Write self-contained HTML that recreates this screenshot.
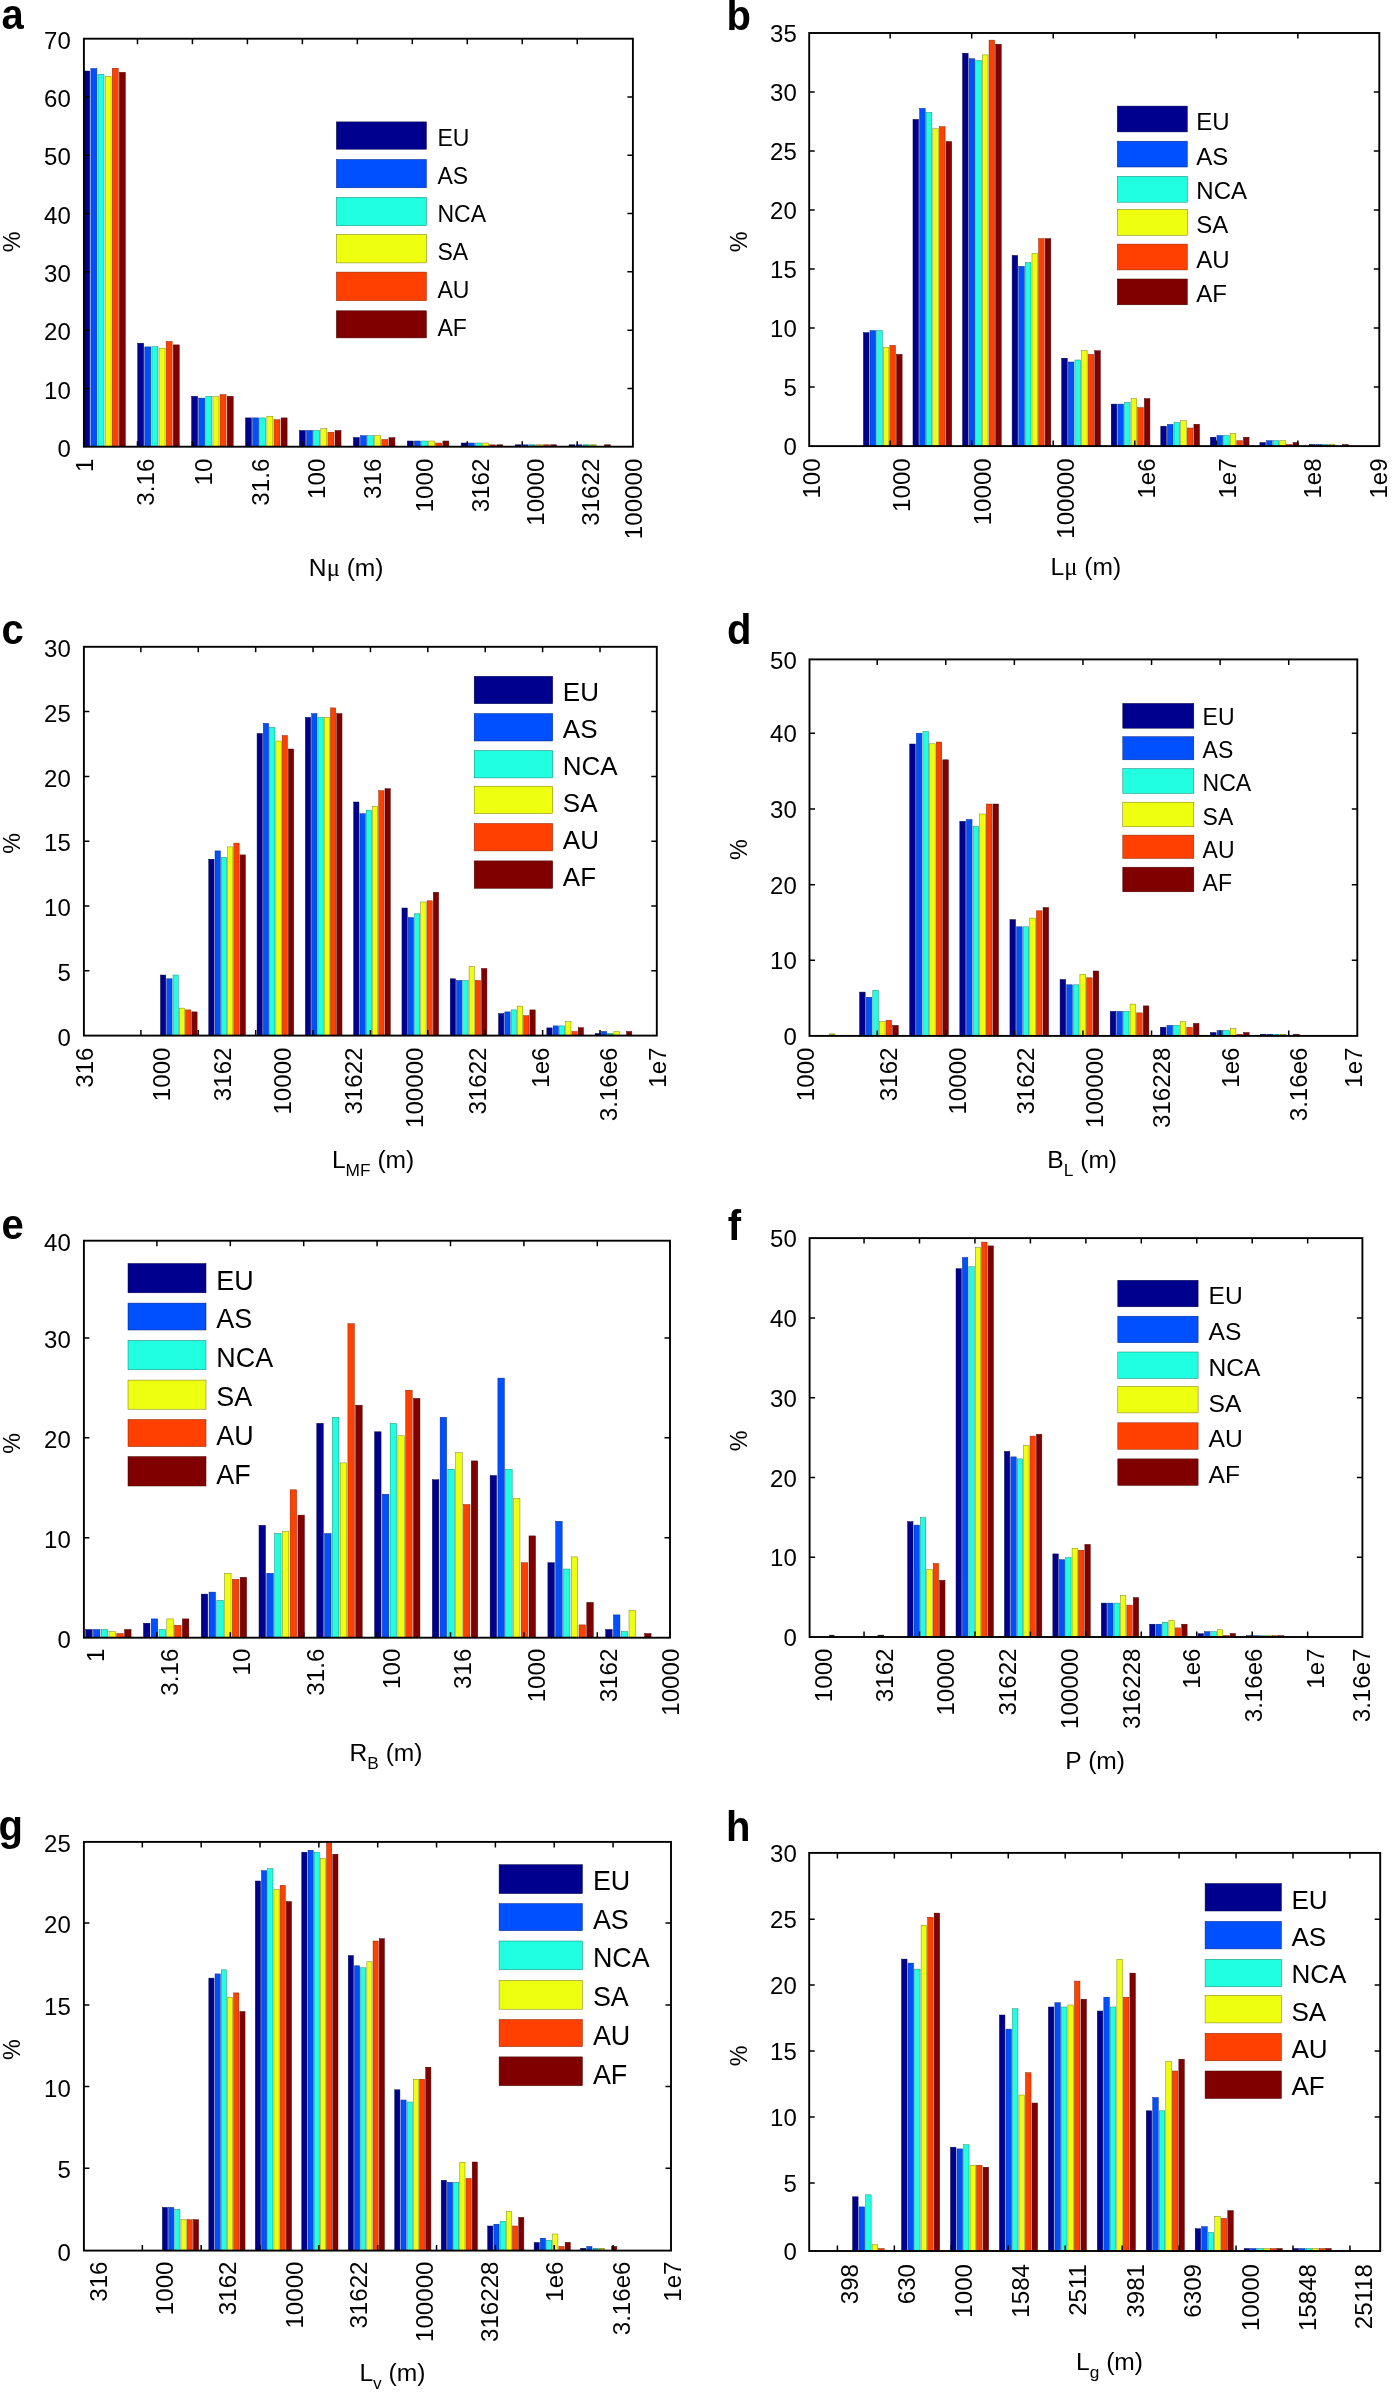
<!DOCTYPE html>
<html><head><meta charset="utf-8"><title>Figure</title>
<style>
html,body{margin:0;padding:0;background:#fff;}
svg{display:block;will-change:transform;font-family:"Liberation Sans",sans-serif;fill:#000;}
</style></head><body>
<svg width="1395" height="2397" viewBox="0 0 1395 2397">
<rect width="1395" height="2397" fill="#fff"/>
<g id="pa">
<g stroke-width="0.45">
<rect x="83.75" y="71" width="6" height="375.7" fill="#00008F" stroke="#000040"/>
<rect x="90.87" y="68.5" width="6" height="378.2" fill="#0050FF" stroke="#002080"/>
<rect x="97.99" y="74.3" width="6" height="372.4" fill="#20FFDF" stroke="#108070"/>
<rect x="105.11" y="76.3" width="6" height="370.4" fill="#EFFF10" stroke="#707808"/>
<rect x="112.23" y="68.2" width="6" height="378.5" fill="#FF4000" stroke="#802000"/>
<rect x="119.35" y="72.3" width="6" height="374.4" fill="#800000" stroke="#400000"/>
<rect x="137.67" y="343.2" width="6" height="103.5" fill="#00008F" stroke="#000040"/>
<rect x="144.79" y="346.9" width="6" height="99.8" fill="#0050FF" stroke="#002080"/>
<rect x="151.91" y="346.7" width="6" height="100" fill="#20FFDF" stroke="#108070"/>
<rect x="159.03" y="348.2" width="6" height="98.5" fill="#EFFF10" stroke="#707808"/>
<rect x="166.15" y="341.4" width="6" height="105.3" fill="#FF4000" stroke="#802000"/>
<rect x="173.27" y="344.9" width="6" height="101.8" fill="#800000" stroke="#400000"/>
<rect x="191.59" y="396.3" width="6" height="50.4" fill="#00008F" stroke="#000040"/>
<rect x="198.71" y="398.1" width="6" height="48.6" fill="#0050FF" stroke="#002080"/>
<rect x="205.83" y="396.3" width="6" height="50.4" fill="#20FFDF" stroke="#108070"/>
<rect x="212.95" y="396.6" width="6" height="50.1" fill="#EFFF10" stroke="#707808"/>
<rect x="220.07" y="394.6" width="6" height="52.1" fill="#FF4000" stroke="#802000"/>
<rect x="227.19" y="396.3" width="6" height="50.4" fill="#800000" stroke="#400000"/>
<rect x="245.51" y="417.9" width="6" height="28.8" fill="#00008F" stroke="#000040"/>
<rect x="252.63" y="417.9" width="6" height="28.8" fill="#0050FF" stroke="#002080"/>
<rect x="259.75" y="417.9" width="6" height="28.8" fill="#20FFDF" stroke="#108070"/>
<rect x="266.87" y="416.2" width="6" height="30.5" fill="#EFFF10" stroke="#707808"/>
<rect x="273.99" y="419.7" width="6" height="27" fill="#FF4000" stroke="#802000"/>
<rect x="281.11" y="417.9" width="6" height="28.8" fill="#800000" stroke="#400000"/>
<rect x="299.43" y="430.5" width="6" height="16.2" fill="#00008F" stroke="#000040"/>
<rect x="306.55" y="430.5" width="6" height="16.2" fill="#0050FF" stroke="#002080"/>
<rect x="313.67" y="430.5" width="6" height="16.2" fill="#20FFDF" stroke="#108070"/>
<rect x="320.79" y="428.7" width="6" height="18" fill="#EFFF10" stroke="#707808"/>
<rect x="327.91" y="432.2" width="6" height="14.5" fill="#FF4000" stroke="#802000"/>
<rect x="335.03" y="430.5" width="6" height="16.2" fill="#800000" stroke="#400000"/>
<rect x="353.35" y="437.5" width="6" height="9.2" fill="#00008F" stroke="#000040"/>
<rect x="360.47" y="435.7" width="6" height="11" fill="#0050FF" stroke="#002080"/>
<rect x="367.59" y="435.7" width="6" height="11" fill="#20FFDF" stroke="#108070"/>
<rect x="374.71" y="435.7" width="6" height="11" fill="#EFFF10" stroke="#707808"/>
<rect x="381.83" y="439.5" width="6" height="7.2" fill="#FF4000" stroke="#802000"/>
<rect x="388.95" y="437.7" width="6" height="9" fill="#800000" stroke="#400000"/>
<rect x="407.27" y="441" width="6" height="5.7" fill="#00008F" stroke="#000040"/>
<rect x="414.39" y="441" width="6" height="5.7" fill="#0050FF" stroke="#002080"/>
<rect x="421.51" y="441" width="6" height="5.7" fill="#20FFDF" stroke="#108070"/>
<rect x="428.63" y="441" width="6" height="5.7" fill="#EFFF10" stroke="#707808"/>
<rect x="435.75" y="443" width="6" height="3.7" fill="#FF4000" stroke="#802000"/>
<rect x="442.87" y="441" width="6" height="5.7" fill="#800000" stroke="#400000"/>
<rect x="461.19" y="443" width="6" height="3.7" fill="#00008F" stroke="#000040"/>
<rect x="468.31" y="443" width="6" height="3.7" fill="#0050FF" stroke="#002080"/>
<rect x="475.43" y="443" width="6" height="3.7" fill="#20FFDF" stroke="#108070"/>
<rect x="482.55" y="443" width="6" height="3.7" fill="#EFFF10" stroke="#707808"/>
<rect x="489.67" y="444.8" width="6" height="1.9" fill="#B83000" stroke="#802000"/>
<rect x="496.79" y="444.8" width="6" height="1.9" fill="#600000" stroke="#400000"/>
<rect x="515.11" y="444.8" width="6" height="1.9" fill="#000060" stroke="#000040"/>
<rect x="522.23" y="444.8" width="6" height="1.9" fill="#0038B0" stroke="#002080"/>
<rect x="529.35" y="444.8" width="6" height="1.9" fill="#18B8A0" stroke="#108070"/>
<rect x="536.47" y="444.8" width="6" height="1.9" fill="#A8B40C" stroke="#707808"/>
<rect x="543.59" y="444.8" width="6" height="1.9" fill="#B83000" stroke="#802000"/>
<rect x="550.71" y="444.8" width="6" height="1.9" fill="#600000" stroke="#400000"/>
<rect x="569.03" y="444.8" width="6" height="1.9" fill="#000060" stroke="#000040"/>
<rect x="576.15" y="444.8" width="6" height="1.9" fill="#0038B0" stroke="#002080"/>
<rect x="583.27" y="444.8" width="6" height="1.9" fill="#18B8A0" stroke="#108070"/>
<rect x="590.39" y="444.8" width="6" height="1.9" fill="#A8B40C" stroke="#707808"/>
<rect x="604.63" y="444.8" width="6" height="1.9" fill="#600000" stroke="#400000"/>
</g>
<path d="M137.47 446.7v-5.5M137.47 38.7v5.5M192.44 446.7v-5.5M192.44 38.7v5.5M247.41 446.7v-5.5M247.41 38.7v5.5M302.38 446.7v-5.5M302.38 38.7v5.5M357.35 446.7v-5.5M357.35 38.7v5.5M412.32 446.7v-5.5M412.32 38.7v5.5M467.29 446.7v-5.5M467.29 38.7v5.5M522.26 446.7v-5.5M522.26 38.7v5.5M577.23 446.7v-5.5M577.23 38.7v5.5M83.9 388.41h5.5M632.9 388.41h-5.5M83.9 330.13h5.5M632.9 330.13h-5.5M83.9 271.84h5.5M632.9 271.84h-5.5M83.9 213.56h5.5M632.9 213.56h-5.5M83.9 155.27h5.5M632.9 155.27h-5.5M83.9 96.99h5.5M632.9 96.99h-5.5" stroke="#000" stroke-width="1.5" fill="none"/>
<rect x="83.9" y="38.7" width="549" height="408" fill="none" stroke="#000" stroke-width="1.9"/>
<g font-size="24" text-anchor="end">
<text transform="translate(70.8 456.8) scale(1 1.03)">0</text>
<text transform="translate(70.8 398.51) scale(1 1.03)">10</text>
<text transform="translate(70.8 340.23) scale(1 1.03)">20</text>
<text transform="translate(70.8 281.94) scale(1 1.03)">30</text>
<text transform="translate(70.8 223.66) scale(1 1.03)">40</text>
<text transform="translate(70.8 165.37) scale(1 1.03)">50</text>
<text transform="translate(70.8 107.09) scale(1 1.03)">60</text>
<text transform="translate(70.8 48.8) scale(1 1.03)">70</text>
</g>
<g font-size="23.3" text-anchor="end">
<text transform="translate(92.6 458.7) rotate(-90) scale(1.035 1)">1</text>
<text transform="translate(154.3 458.7) rotate(-90) scale(1.035 1)">3.16</text>
<text transform="translate(212.3 458.7) rotate(-90) scale(1.035 1)">10</text>
<text transform="translate(269.1 458.7) rotate(-90) scale(1.035 1)">31.6</text>
<text transform="translate(325.4 458.7) rotate(-90) scale(1.035 1)">100</text>
<text transform="translate(380.8 458.7) rotate(-90) scale(1.035 1)">316</text>
<text transform="translate(433.3 458.7) rotate(-90) scale(1.035 1)">1000</text>
<text transform="translate(488.7 458.7) rotate(-90) scale(1.035 1)">3162</text>
<text transform="translate(543.6 458.7) rotate(-90) scale(1.035 1)">10000</text>
<text transform="translate(598.7 458.7) rotate(-90) scale(1.035 1)">31622</text>
<text transform="translate(641.6 458.7) rotate(-90) scale(1.035 1)">100000</text>
</g>
<text font-size="23.3" text-anchor="middle" transform="translate(20.3 242) rotate(-90)">%</text>
<text font-size="24.6" text-anchor="middle" x="346.2" y="575.7">N<tspan font-family="Liberation Serif">μ</tspan> (m)</text>
<text font-size="40" font-weight="bold" transform="translate(1.5 29.3) scale(1 1.05)">a</text>
<rect x="336.4" y="121.9" width="90" height="27.3" fill="#00008F" stroke="#000040" stroke-width="0.5"/>
<text font-size="23" x="437.5" y="145.66">EU</text>
<rect x="336.4" y="159.5" width="90" height="28.3" fill="#0050FF" stroke="#002080" stroke-width="0.5"/>
<text font-size="23" x="437.5" y="183.63">AS</text>
<rect x="336.4" y="197.4" width="90" height="28.3" fill="#20FFDF" stroke="#108070" stroke-width="0.5"/>
<text font-size="23" x="437.5" y="221.61">NCA</text>
<rect x="336.4" y="234.5" width="90" height="28.4" fill="#EFFF10" stroke="#707808" stroke-width="0.5"/>
<text font-size="23" x="437.5" y="259.59">SA</text>
<rect x="336.4" y="272.1" width="90" height="28.6" fill="#FF4000" stroke="#802000" stroke-width="0.5"/>
<text font-size="23" x="437.5" y="297.57">AU</text>
<rect x="336.4" y="310.8" width="90" height="27.1" fill="#800000" stroke="#400000" stroke-width="0.5"/>
<text font-size="23" x="437.5" y="335.54">AF</text>
</g>
<g id="pb">
<g stroke-width="0.45">
<rect x="863.42" y="332.6" width="5.6" height="113.5" fill="#00008F" stroke="#000040"/>
<rect x="870.04" y="330.6" width="5.6" height="115.5" fill="#0050FF" stroke="#002080"/>
<rect x="876.66" y="330.6" width="5.6" height="115.5" fill="#20FFDF" stroke="#108070"/>
<rect x="883.28" y="347.4" width="5.6" height="98.7" fill="#EFFF10" stroke="#707808"/>
<rect x="889.9" y="345.4" width="5.6" height="100.7" fill="#FF4000" stroke="#802000"/>
<rect x="896.52" y="354.4" width="5.6" height="91.7" fill="#800000" stroke="#400000"/>
<rect x="912.98" y="119.4" width="5.6" height="326.7" fill="#00008F" stroke="#000040"/>
<rect x="919.6" y="108.4" width="5.6" height="337.7" fill="#0050FF" stroke="#002080"/>
<rect x="926.22" y="112.4" width="5.6" height="333.7" fill="#20FFDF" stroke="#108070"/>
<rect x="932.84" y="128.7" width="5.6" height="317.4" fill="#EFFF10" stroke="#707808"/>
<rect x="939.46" y="126.7" width="5.6" height="319.4" fill="#FF4000" stroke="#802000"/>
<rect x="946.08" y="141.5" width="5.6" height="304.6" fill="#800000" stroke="#400000"/>
<rect x="962.54" y="53.2" width="5.6" height="392.9" fill="#00008F" stroke="#000040"/>
<rect x="969.16" y="58.7" width="5.6" height="387.4" fill="#0050FF" stroke="#002080"/>
<rect x="975.78" y="60.5" width="5.6" height="385.6" fill="#20FFDF" stroke="#108070"/>
<rect x="982.4" y="54.9" width="5.6" height="391.2" fill="#EFFF10" stroke="#707808"/>
<rect x="989.02" y="40.1" width="5.6" height="406" fill="#FF4000" stroke="#802000"/>
<rect x="995.64" y="44.2" width="5.6" height="401.9" fill="#800000" stroke="#400000"/>
<rect x="1012.11" y="255.4" width="5.6" height="190.7" fill="#00008F" stroke="#000040"/>
<rect x="1018.73" y="266.4" width="5.6" height="179.7" fill="#0050FF" stroke="#002080"/>
<rect x="1025.35" y="262.7" width="5.6" height="183.4" fill="#20FFDF" stroke="#108070"/>
<rect x="1031.97" y="253.4" width="5.6" height="192.7" fill="#EFFF10" stroke="#707808"/>
<rect x="1038.59" y="238.6" width="5.6" height="207.5" fill="#FF4000" stroke="#802000"/>
<rect x="1045.21" y="238.6" width="5.6" height="207.5" fill="#800000" stroke="#400000"/>
<rect x="1061.67" y="358.2" width="5.6" height="87.9" fill="#00008F" stroke="#000040"/>
<rect x="1068.29" y="362" width="5.6" height="84.1" fill="#0050FF" stroke="#002080"/>
<rect x="1074.91" y="360" width="5.6" height="86.1" fill="#20FFDF" stroke="#108070"/>
<rect x="1081.53" y="350.7" width="5.6" height="95.4" fill="#EFFF10" stroke="#707808"/>
<rect x="1088.15" y="354.4" width="5.6" height="91.7" fill="#FF4000" stroke="#802000"/>
<rect x="1094.77" y="350.7" width="5.6" height="95.4" fill="#800000" stroke="#400000"/>
<rect x="1111.23" y="404.1" width="5.6" height="42" fill="#00008F" stroke="#000040"/>
<rect x="1117.85" y="404.1" width="5.6" height="42" fill="#0050FF" stroke="#002080"/>
<rect x="1124.47" y="402.4" width="5.6" height="43.7" fill="#20FFDF" stroke="#108070"/>
<rect x="1131.09" y="398.6" width="5.6" height="47.5" fill="#EFFF10" stroke="#707808"/>
<rect x="1137.71" y="407.6" width="5.6" height="38.5" fill="#FF4000" stroke="#802000"/>
<rect x="1144.33" y="398.6" width="5.6" height="47.5" fill="#800000" stroke="#400000"/>
<rect x="1160.79" y="426.2" width="5.6" height="19.9" fill="#00008F" stroke="#000040"/>
<rect x="1167.41" y="424.4" width="5.6" height="21.7" fill="#0050FF" stroke="#002080"/>
<rect x="1174.03" y="422.4" width="5.6" height="23.7" fill="#20FFDF" stroke="#108070"/>
<rect x="1180.65" y="420.7" width="5.6" height="25.4" fill="#EFFF10" stroke="#707808"/>
<rect x="1187.27" y="428" width="5.6" height="18.1" fill="#FF4000" stroke="#802000"/>
<rect x="1193.89" y="424.2" width="5.6" height="21.9" fill="#800000" stroke="#400000"/>
<rect x="1210.35" y="437.2" width="5.6" height="8.9" fill="#00008F" stroke="#000040"/>
<rect x="1216.97" y="435.5" width="5.6" height="10.6" fill="#0050FF" stroke="#002080"/>
<rect x="1223.59" y="435.5" width="5.6" height="10.6" fill="#20FFDF" stroke="#108070"/>
<rect x="1230.21" y="433.5" width="5.6" height="12.6" fill="#EFFF10" stroke="#707808"/>
<rect x="1236.83" y="440.7" width="5.6" height="5.4" fill="#FF4000" stroke="#802000"/>
<rect x="1243.45" y="437.2" width="5.6" height="8.9" fill="#800000" stroke="#400000"/>
<rect x="1259.92" y="442.5" width="5.6" height="3.6" fill="#00008F" stroke="#000040"/>
<rect x="1266.54" y="440.7" width="5.6" height="5.4" fill="#0050FF" stroke="#002080"/>
<rect x="1273.16" y="440.7" width="5.6" height="5.4" fill="#20FFDF" stroke="#108070"/>
<rect x="1279.78" y="440.7" width="5.6" height="5.4" fill="#EFFF10" stroke="#707808"/>
<rect x="1286.4" y="444.5" width="5.6" height="1.6" fill="#B83000" stroke="#802000"/>
<rect x="1293.02" y="442.5" width="5.6" height="3.6" fill="#800000" stroke="#400000"/>
<rect x="1309.48" y="444.5" width="5.6" height="1.6" fill="#000060" stroke="#000040"/>
<rect x="1316.1" y="444.5" width="5.6" height="1.6" fill="#0038B0" stroke="#002080"/>
<rect x="1322.72" y="444.5" width="5.6" height="1.6" fill="#18B8A0" stroke="#108070"/>
<rect x="1329.34" y="444.5" width="5.6" height="1.6" fill="#A8B40C" stroke="#707808"/>
<rect x="1342.58" y="444.5" width="5.6" height="1.6" fill="#600000" stroke="#400000"/>
</g>
<path d="M890.14 446.1v-5.5M890.14 33v5.5M971.68 446.1v-5.5M971.68 33v5.5M1053.22 446.1v-5.5M1053.22 33v5.5M1134.76 446.1v-5.5M1134.76 33v5.5M1216.3 446.1v-5.5M1216.3 33v5.5M1297.84 446.1v-5.5M1297.84 33v5.5M809.2 387.09h5.5M1379.3 387.09h-5.5M809.2 328.07h5.5M1379.3 328.07h-5.5M809.2 269.06h5.5M1379.3 269.06h-5.5M809.2 210.04h5.5M1379.3 210.04h-5.5M809.2 151.03h5.5M1379.3 151.03h-5.5M809.2 92.01h5.5M1379.3 92.01h-5.5" stroke="#000" stroke-width="1.5" fill="none"/>
<rect x="809.2" y="33" width="570.1" height="413.1" fill="none" stroke="#000" stroke-width="1.9"/>
<g font-size="24" text-anchor="end">
<text transform="translate(796.8 455.2) scale(1 1.03)">0</text>
<text transform="translate(796.8 396.19) scale(1 1.03)">5</text>
<text transform="translate(796.8 337.17) scale(1 1.03)">10</text>
<text transform="translate(796.8 278.16) scale(1 1.03)">15</text>
<text transform="translate(796.8 219.14) scale(1 1.03)">20</text>
<text transform="translate(796.8 160.13) scale(1 1.03)">25</text>
<text transform="translate(796.8 101.11) scale(1 1.03)">30</text>
<text transform="translate(796.8 42.1) scale(1 1.03)">35</text>
</g>
<g font-size="23.3" text-anchor="end">
<text transform="translate(820.4 458.3) rotate(-90) scale(1.035 1)">100</text>
<text transform="translate(910 458.3) rotate(-90) scale(1.035 1)">1000</text>
<text transform="translate(991.3 458.3) rotate(-90) scale(1.035 1)">10000</text>
<text transform="translate(1073.6 458.3) rotate(-90) scale(1.035 1)">100000</text>
<text transform="translate(1154.9 458.3) rotate(-90) scale(1.035 1)">1e6</text>
<text transform="translate(1236.4 458.3) rotate(-90) scale(1.035 1)">1e7</text>
<text transform="translate(1320.5 458.3) rotate(-90) scale(1.035 1)">1e8</text>
<text transform="translate(1387 458.3) rotate(-90) scale(1.035 1)">1e9</text>
</g>
<text font-size="23.3" text-anchor="middle" transform="translate(747.2 242) rotate(-90)">%</text>
<text font-size="24.6" text-anchor="middle" x="1085.8" y="574.7">L<tspan font-family="Liberation Serif">μ</tspan> (m)</text>
<text font-size="40" font-weight="bold" transform="translate(726.5 30.1) scale(1 1.05)">b</text>
<rect x="1117.3" y="106.1" width="70" height="25.8" fill="#00008F" stroke="#000040" stroke-width="0.5"/>
<text font-size="24" x="1196.3" y="130.36">EU</text>
<rect x="1117.3" y="141.2" width="70" height="25.8" fill="#0050FF" stroke="#002080" stroke-width="0.5"/>
<text font-size="24" x="1196.3" y="164.69">AS</text>
<rect x="1117.3" y="176.4" width="70" height="25.8" fill="#20FFDF" stroke="#108070" stroke-width="0.5"/>
<text font-size="24" x="1196.3" y="199.02">NCA</text>
<rect x="1117.3" y="209.5" width="70" height="25.8" fill="#EFFF10" stroke="#707808" stroke-width="0.5"/>
<text font-size="24" x="1196.3" y="233.35">SA</text>
<rect x="1117.3" y="244.1" width="70" height="25.8" fill="#FF4000" stroke="#802000" stroke-width="0.5"/>
<text font-size="24" x="1196.3" y="267.68">AU</text>
<rect x="1117.3" y="279" width="70" height="25.8" fill="#800000" stroke="#400000" stroke-width="0.5"/>
<text font-size="24" x="1196.3" y="302">AF</text>
</g>
<g id="pc">
<g stroke-width="0.45">
<rect x="160.46" y="975" width="5.3" height="60.6" fill="#00008F" stroke="#000040"/>
<rect x="166.73" y="978.8" width="5.3" height="56.8" fill="#0050FF" stroke="#002080"/>
<rect x="173" y="975" width="5.3" height="60.6" fill="#20FFDF" stroke="#108070"/>
<rect x="179.27" y="1008.1" width="5.3" height="27.5" fill="#EFFF10" stroke="#707808"/>
<rect x="185.54" y="1009.9" width="5.3" height="25.7" fill="#FF4000" stroke="#802000"/>
<rect x="191.81" y="1011.9" width="5.3" height="23.7" fill="#800000" stroke="#400000"/>
<rect x="208.76" y="859.2" width="5.3" height="176.4" fill="#00008F" stroke="#000040"/>
<rect x="215.03" y="850.9" width="5.3" height="184.7" fill="#0050FF" stroke="#002080"/>
<rect x="221.3" y="857.2" width="5.3" height="178.4" fill="#20FFDF" stroke="#108070"/>
<rect x="227.57" y="846.9" width="5.3" height="188.7" fill="#EFFF10" stroke="#707808"/>
<rect x="233.84" y="843.1" width="5.3" height="192.5" fill="#FF4000" stroke="#802000"/>
<rect x="240.11" y="854.9" width="5.3" height="180.7" fill="#800000" stroke="#400000"/>
<rect x="257.06" y="733.5" width="5.3" height="302.1" fill="#00008F" stroke="#000040"/>
<rect x="263.33" y="723.4" width="5.3" height="312.2" fill="#0050FF" stroke="#002080"/>
<rect x="269.6" y="727.4" width="5.3" height="308.2" fill="#20FFDF" stroke="#108070"/>
<rect x="275.87" y="741" width="5.3" height="294.6" fill="#EFFF10" stroke="#707808"/>
<rect x="282.14" y="735.5" width="5.3" height="300.1" fill="#FF4000" stroke="#802000"/>
<rect x="288.41" y="749" width="5.3" height="286.6" fill="#800000" stroke="#400000"/>
<rect x="305.36" y="717.4" width="5.3" height="318.2" fill="#00008F" stroke="#000040"/>
<rect x="311.63" y="713.6" width="5.3" height="322" fill="#0050FF" stroke="#002080"/>
<rect x="317.9" y="717.4" width="5.3" height="318.2" fill="#20FFDF" stroke="#108070"/>
<rect x="324.17" y="717.4" width="5.3" height="318.2" fill="#EFFF10" stroke="#707808"/>
<rect x="330.44" y="707.9" width="5.3" height="327.7" fill="#FF4000" stroke="#802000"/>
<rect x="336.71" y="713.6" width="5.3" height="322" fill="#800000" stroke="#400000"/>
<rect x="353.66" y="802" width="5.3" height="233.6" fill="#00008F" stroke="#000040"/>
<rect x="359.93" y="813.7" width="5.3" height="221.9" fill="#0050FF" stroke="#002080"/>
<rect x="366.2" y="810.2" width="5.3" height="225.4" fill="#20FFDF" stroke="#108070"/>
<rect x="372.47" y="806.2" width="5.3" height="229.4" fill="#EFFF10" stroke="#707808"/>
<rect x="378.74" y="790.7" width="5.3" height="244.9" fill="#FF4000" stroke="#802000"/>
<rect x="385.01" y="788.7" width="5.3" height="246.9" fill="#800000" stroke="#400000"/>
<rect x="401.96" y="908" width="5.3" height="127.6" fill="#00008F" stroke="#000040"/>
<rect x="408.23" y="917.6" width="5.3" height="118" fill="#0050FF" stroke="#002080"/>
<rect x="414.5" y="913.8" width="5.3" height="121.8" fill="#20FFDF" stroke="#108070"/>
<rect x="420.77" y="902" width="5.3" height="133.6" fill="#EFFF10" stroke="#707808"/>
<rect x="427.04" y="900.8" width="5.3" height="134.8" fill="#FF4000" stroke="#802000"/>
<rect x="433.31" y="892.3" width="5.3" height="143.3" fill="#800000" stroke="#400000"/>
<rect x="450.25" y="978.8" width="5.3" height="56.8" fill="#00008F" stroke="#000040"/>
<rect x="456.52" y="980.5" width="5.3" height="55.1" fill="#0050FF" stroke="#002080"/>
<rect x="462.79" y="980.5" width="5.3" height="55.1" fill="#20FFDF" stroke="#108070"/>
<rect x="469.06" y="966.5" width="5.3" height="69.1" fill="#EFFF10" stroke="#707808"/>
<rect x="475.33" y="980.5" width="5.3" height="55.1" fill="#FF4000" stroke="#802000"/>
<rect x="481.6" y="968.5" width="5.3" height="67.1" fill="#800000" stroke="#400000"/>
<rect x="498.55" y="1013.6" width="5.3" height="22" fill="#00008F" stroke="#000040"/>
<rect x="504.82" y="1011.9" width="5.3" height="23.7" fill="#0050FF" stroke="#002080"/>
<rect x="511.09" y="1009.9" width="5.3" height="25.7" fill="#20FFDF" stroke="#108070"/>
<rect x="517.36" y="1006.1" width="5.3" height="29.5" fill="#EFFF10" stroke="#707808"/>
<rect x="523.63" y="1015.7" width="5.3" height="19.9" fill="#FF4000" stroke="#802000"/>
<rect x="529.9" y="1009.9" width="5.3" height="25.7" fill="#800000" stroke="#400000"/>
<rect x="546.85" y="1027.9" width="5.3" height="7.7" fill="#00008F" stroke="#000040"/>
<rect x="553.12" y="1025.9" width="5.3" height="9.7" fill="#0050FF" stroke="#002080"/>
<rect x="559.39" y="1025.9" width="5.3" height="9.7" fill="#20FFDF" stroke="#108070"/>
<rect x="565.66" y="1021.7" width="5.3" height="13.9" fill="#EFFF10" stroke="#707808"/>
<rect x="571.93" y="1031.5" width="5.3" height="4.1" fill="#FF4000" stroke="#802000"/>
<rect x="578.2" y="1027.7" width="5.3" height="7.9" fill="#800000" stroke="#400000"/>
<rect x="595.15" y="1033.5" width="5.3" height="2.1" fill="#000060" stroke="#000040"/>
<rect x="601.42" y="1031.5" width="5.3" height="4.1" fill="#0050FF" stroke="#002080"/>
<rect x="607.69" y="1033.5" width="5.3" height="2.1" fill="#18B8A0" stroke="#108070"/>
<rect x="613.96" y="1031.5" width="5.3" height="4.1" fill="#EFFF10" stroke="#707808"/>
<rect x="626.5" y="1031.5" width="5.3" height="4.1" fill="#800000" stroke="#400000"/>
</g>
<path d="M140.89 1035.6v-5.5M140.89 646.8v5.5M198.28 1035.6v-5.5M198.28 646.8v5.5M255.67 1035.6v-5.5M255.67 646.8v5.5M313.06 1035.6v-5.5M313.06 646.8v5.5M370.45 1035.6v-5.5M370.45 646.8v5.5M427.84 1035.6v-5.5M427.84 646.8v5.5M485.23 1035.6v-5.5M485.23 646.8v5.5M542.62 1035.6v-5.5M542.62 646.8v5.5M600.01 1035.6v-5.5M600.01 646.8v5.5M83.9 970.8h5.5M656.8 970.8h-5.5M83.9 906h5.5M656.8 906h-5.5M83.9 841.2h5.5M656.8 841.2h-5.5M83.9 776.4h5.5M656.8 776.4h-5.5M83.9 711.6h5.5M656.8 711.6h-5.5" stroke="#000" stroke-width="1.5" fill="none"/>
<rect x="83.9" y="646.8" width="572.9" height="388.8" fill="none" stroke="#000" stroke-width="1.9"/>
<g font-size="24" text-anchor="end">
<text transform="translate(70.8 1045.7) scale(1 1.03)">0</text>
<text transform="translate(70.8 980.9) scale(1 1.03)">5</text>
<text transform="translate(70.8 916.1) scale(1 1.03)">10</text>
<text transform="translate(70.8 851.3) scale(1 1.03)">15</text>
<text transform="translate(70.8 786.5) scale(1 1.03)">20</text>
<text transform="translate(70.8 721.7) scale(1 1.03)">25</text>
<text transform="translate(70.8 656.9) scale(1 1.03)">30</text>
</g>
<g font-size="23.3" text-anchor="end">
<text transform="translate(92.8 1047.5) rotate(-90) scale(1.035 1)">316</text>
<text transform="translate(170.1 1047.5) rotate(-90) scale(1.035 1)">1000</text>
<text transform="translate(230.6 1047.5) rotate(-90) scale(1.035 1)">3162</text>
<text transform="translate(291.3 1047.5) rotate(-90) scale(1.035 1)">10000</text>
<text transform="translate(362.3 1047.5) rotate(-90) scale(1.035 1)">31622</text>
<text transform="translate(423.1 1047.5) rotate(-90) scale(1.035 1)">100000</text>
<text transform="translate(485.8 1047.5) rotate(-90) scale(1.035 1)">31622</text>
<text transform="translate(548.5 1047.5) rotate(-90) scale(1.035 1)">1e6</text>
<text transform="translate(617 1047.5) rotate(-90) scale(1.035 1)">3.16e6</text>
<text transform="translate(665.7 1047.5) rotate(-90) scale(1.035 1)">1e7</text>
</g>
<text font-size="23.3" text-anchor="middle" transform="translate(20.3 843.4) rotate(-90)">%</text>
<text font-size="24.6" text-anchor="middle" x="373.1" y="1168">L<tspan font-size="17.3" dy="7.7">MF</tspan><tspan dy="-7.7"> (m)</tspan></text>
<text font-size="40" font-weight="bold" transform="translate(1.4 644.3) scale(1 1.05)">c</text>
<rect x="474.2" y="676.3" width="78.5" height="27.4" fill="#00008F" stroke="#000040" stroke-width="0.5"/>
<text font-size="26" x="562.8" y="701.31">EU</text>
<rect x="474.2" y="713.6" width="78.5" height="27.4" fill="#0050FF" stroke="#002080" stroke-width="0.5"/>
<text font-size="26" x="562.8" y="738.23">AS</text>
<rect x="474.2" y="750.5" width="78.5" height="27.4" fill="#20FFDF" stroke="#108070" stroke-width="0.5"/>
<text font-size="26" x="562.8" y="775.14">NCA</text>
<rect x="474.2" y="786.2" width="78.5" height="27.4" fill="#EFFF10" stroke="#707808" stroke-width="0.5"/>
<text font-size="26" x="562.8" y="812.06">SA</text>
<rect x="474.2" y="823.5" width="78.5" height="27.4" fill="#FF4000" stroke="#802000" stroke-width="0.5"/>
<text font-size="26" x="562.8" y="848.97">AU</text>
<rect x="474.2" y="860.9" width="78.5" height="27.4" fill="#800000" stroke="#400000" stroke-width="0.5"/>
<text font-size="26" x="562.8" y="885.89">AF</text>
</g>
<g id="pd">
<g stroke-width="0.45">
<rect x="829.3" y="1033.9" width="5.6" height="2" fill="#A8B40C" stroke="#707808"/>
<rect x="859.57" y="992.1" width="5.6" height="43.8" fill="#00008F" stroke="#000040"/>
<rect x="866.19" y="997.3" width="5.6" height="38.6" fill="#0050FF" stroke="#002080"/>
<rect x="872.81" y="990.3" width="5.6" height="45.6" fill="#20FFDF" stroke="#108070"/>
<rect x="879.43" y="1021.7" width="5.6" height="14.2" fill="#EFFF10" stroke="#707808"/>
<rect x="886.05" y="1020.2" width="5.6" height="15.7" fill="#FF4000" stroke="#802000"/>
<rect x="892.67" y="1025.4" width="5.6" height="10.5" fill="#800000" stroke="#400000"/>
<rect x="909.69" y="744" width="5.6" height="291.9" fill="#00008F" stroke="#000040"/>
<rect x="916.31" y="733.2" width="5.6" height="302.7" fill="#0050FF" stroke="#002080"/>
<rect x="922.93" y="731.5" width="5.6" height="304.4" fill="#20FFDF" stroke="#108070"/>
<rect x="929.55" y="743.8" width="5.6" height="292.1" fill="#EFFF10" stroke="#707808"/>
<rect x="936.17" y="742" width="5.6" height="293.9" fill="#FF4000" stroke="#802000"/>
<rect x="942.79" y="759.8" width="5.6" height="276.1" fill="#800000" stroke="#400000"/>
<rect x="959.82" y="821.3" width="5.6" height="214.6" fill="#00008F" stroke="#000040"/>
<rect x="966.44" y="819.5" width="5.6" height="216.4" fill="#0050FF" stroke="#002080"/>
<rect x="973.06" y="826.3" width="5.6" height="209.6" fill="#20FFDF" stroke="#108070"/>
<rect x="979.68" y="814" width="5.6" height="221.9" fill="#EFFF10" stroke="#707808"/>
<rect x="986.3" y="804" width="5.6" height="231.9" fill="#FF4000" stroke="#802000"/>
<rect x="992.92" y="804" width="5.6" height="231.9" fill="#800000" stroke="#400000"/>
<rect x="1009.94" y="919.6" width="5.6" height="116.3" fill="#00008F" stroke="#000040"/>
<rect x="1016.56" y="926.8" width="5.6" height="109.1" fill="#0050FF" stroke="#002080"/>
<rect x="1023.18" y="926.8" width="5.6" height="109.1" fill="#20FFDF" stroke="#108070"/>
<rect x="1029.8" y="918.1" width="5.6" height="117.8" fill="#EFFF10" stroke="#707808"/>
<rect x="1036.42" y="910.8" width="5.6" height="125.1" fill="#FF4000" stroke="#802000"/>
<rect x="1043.04" y="907.5" width="5.6" height="128.4" fill="#800000" stroke="#400000"/>
<rect x="1060.07" y="979.5" width="5.6" height="56.4" fill="#00008F" stroke="#000040"/>
<rect x="1066.68" y="984.8" width="5.6" height="51.1" fill="#0050FF" stroke="#002080"/>
<rect x="1073.31" y="984.8" width="5.6" height="51.1" fill="#20FFDF" stroke="#108070"/>
<rect x="1079.92" y="974.3" width="5.6" height="61.6" fill="#EFFF10" stroke="#707808"/>
<rect x="1086.55" y="977.8" width="5.6" height="58.1" fill="#FF4000" stroke="#802000"/>
<rect x="1093.16" y="971" width="5.6" height="64.9" fill="#800000" stroke="#400000"/>
<rect x="1110.19" y="1011.4" width="5.6" height="24.5" fill="#00008F" stroke="#000040"/>
<rect x="1116.81" y="1011.4" width="5.6" height="24.5" fill="#0050FF" stroke="#002080"/>
<rect x="1123.43" y="1011.4" width="5.6" height="24.5" fill="#20FFDF" stroke="#108070"/>
<rect x="1130.05" y="1004.1" width="5.6" height="31.8" fill="#EFFF10" stroke="#707808"/>
<rect x="1136.67" y="1012.9" width="5.6" height="23" fill="#FF4000" stroke="#802000"/>
<rect x="1143.29" y="1005.9" width="5.6" height="30" fill="#800000" stroke="#400000"/>
<rect x="1160.32" y="1027.2" width="5.6" height="8.7" fill="#00008F" stroke="#000040"/>
<rect x="1166.93" y="1025.4" width="5.6" height="10.5" fill="#0050FF" stroke="#002080"/>
<rect x="1173.56" y="1025.4" width="5.6" height="10.5" fill="#20FFDF" stroke="#108070"/>
<rect x="1180.17" y="1021.7" width="5.6" height="14.2" fill="#EFFF10" stroke="#707808"/>
<rect x="1186.8" y="1027.2" width="5.6" height="8.7" fill="#FF4000" stroke="#802000"/>
<rect x="1193.41" y="1023.4" width="5.6" height="12.5" fill="#800000" stroke="#400000"/>
<rect x="1210.44" y="1032.5" width="5.6" height="3.4" fill="#00008F" stroke="#000040"/>
<rect x="1217.06" y="1030.5" width="5.6" height="5.4" fill="#0050FF" stroke="#002080"/>
<rect x="1223.68" y="1030.5" width="5.6" height="5.4" fill="#20FFDF" stroke="#108070"/>
<rect x="1230.3" y="1028.7" width="5.6" height="7.2" fill="#EFFF10" stroke="#707808"/>
<rect x="1236.92" y="1034.2" width="5.6" height="1.7" fill="#B83000" stroke="#802000"/>
<rect x="1243.54" y="1032.5" width="5.6" height="3.4" fill="#800000" stroke="#400000"/>
<rect x="1260.57" y="1034.2" width="5.6" height="1.7" fill="#000060" stroke="#000040"/>
<rect x="1267.18" y="1034.2" width="5.6" height="1.7" fill="#0038B0" stroke="#002080"/>
<rect x="1273.81" y="1034.2" width="5.6" height="1.7" fill="#18B8A0" stroke="#108070"/>
<rect x="1280.42" y="1034.2" width="5.6" height="1.7" fill="#A8B40C" stroke="#707808"/>
<rect x="1293.66" y="1034.2" width="5.6" height="1.7" fill="#600000" stroke="#400000"/>
</g>
<path d="M877.19 1035.9v-5.5M877.19 659.4v5.5M945.78 1035.9v-5.5M945.78 659.4v5.5M1014.37 1035.9v-5.5M1014.37 659.4v5.5M1082.96 1035.9v-5.5M1082.96 659.4v5.5M1151.55 1035.9v-5.5M1151.55 659.4v5.5M1220.14 1035.9v-5.5M1220.14 659.4v5.5M1288.73 1035.9v-5.5M1288.73 659.4v5.5M809.5 960.2h5.5M1357.3 960.2h-5.5M809.5 884.7h5.5M1357.3 884.7h-5.5M809.5 809h5.5M1357.3 809h-5.5M809.5 733.2h5.5M1357.3 733.2h-5.5" stroke="#000" stroke-width="1.5" fill="none"/>
<rect x="809.5" y="659.4" width="547.8" height="376.5" fill="none" stroke="#000" stroke-width="1.9"/>
<g font-size="24" text-anchor="end">
<text transform="translate(796.8 1045) scale(1 1.03)">0</text>
<text transform="translate(796.8 969.3) scale(1 1.03)">10</text>
<text transform="translate(796.8 893.8) scale(1 1.03)">20</text>
<text transform="translate(796.8 818.1) scale(1 1.03)">30</text>
<text transform="translate(796.8 742.3) scale(1 1.03)">40</text>
<text transform="translate(796.8 668.5) scale(1 1.03)">50</text>
</g>
<g font-size="23.3" text-anchor="end">
<text transform="translate(814.2 1047.5) rotate(-90) scale(1.035 1)">1000</text>
<text transform="translate(897 1047.5) rotate(-90) scale(1.035 1)">3162</text>
<text transform="translate(965.7 1047.5) rotate(-90) scale(1.035 1)">10000</text>
<text transform="translate(1033.9 1047.5) rotate(-90) scale(1.035 1)">31622</text>
<text transform="translate(1102.7 1047.5) rotate(-90) scale(1.035 1)">100000</text>
<text transform="translate(1169.7 1047.5) rotate(-90) scale(1.035 1)">316228</text>
<text transform="translate(1238.9 1047.5) rotate(-90) scale(1.035 1)">1e6</text>
<text transform="translate(1307.2 1047.5) rotate(-90) scale(1.035 1)">3.16e6</text>
<text transform="translate(1361.9 1047.5) rotate(-90) scale(1.035 1)">1e7</text>
</g>
<text font-size="23.3" text-anchor="middle" transform="translate(747.2 849.6) rotate(-90)">%</text>
<text font-size="24.6" text-anchor="middle" x="1082.2" y="1168">B<tspan font-size="17.3" dy="7.7">L</tspan><tspan dy="-7.7"> (m)</tspan></text>
<text font-size="40" font-weight="bold" transform="translate(726.9 644.3) scale(1 1.05)">d</text>
<rect x="1122.8" y="703.4" width="71" height="24.8" fill="#00008F" stroke="#000040" stroke-width="0.5"/>
<text font-size="23" x="1202.6" y="725.09">EU</text>
<rect x="1122.8" y="736.7" width="71" height="23.1" fill="#0050FF" stroke="#002080" stroke-width="0.5"/>
<text font-size="23" x="1202.6" y="758.25">AS</text>
<rect x="1122.8" y="768.6" width="71" height="24.8" fill="#20FFDF" stroke="#108070" stroke-width="0.5"/>
<text font-size="23" x="1202.6" y="791.4">NCA</text>
<rect x="1122.8" y="802.2" width="71" height="24.6" fill="#EFFF10" stroke="#707808" stroke-width="0.5"/>
<text font-size="23" x="1202.6" y="824.56">SA</text>
<rect x="1122.8" y="835.1" width="71" height="23.3" fill="#FF4000" stroke="#802000" stroke-width="0.5"/>
<text font-size="23" x="1202.6" y="857.72">AU</text>
<rect x="1122.8" y="867.2" width="71" height="24.6" fill="#800000" stroke="#400000" stroke-width="0.5"/>
<text font-size="23" x="1202.6" y="890.88">AF</text>
</g>
<g id="pe">
<g stroke-width="0.45">
<rect x="85.68" y="1629.5" width="6.5" height="8.2" fill="#00008F" stroke="#000040"/>
<rect x="93.46" y="1629.5" width="6.5" height="8.2" fill="#0050FF" stroke="#002080"/>
<rect x="101.24" y="1629.5" width="6.5" height="8.2" fill="#20FFDF" stroke="#108070"/>
<rect x="109.02" y="1631.5" width="6.5" height="6.2" fill="#EFFF10" stroke="#707808"/>
<rect x="116.8" y="1633.5" width="6.5" height="4.2" fill="#FF4000" stroke="#802000"/>
<rect x="124.58" y="1629.5" width="6.5" height="8.2" fill="#800000" stroke="#400000"/>
<rect x="143.46" y="1623.2" width="6.5" height="14.5" fill="#00008F" stroke="#000040"/>
<rect x="151.24" y="1618.9" width="6.5" height="18.8" fill="#0050FF" stroke="#002080"/>
<rect x="159.02" y="1629.5" width="6.5" height="8.2" fill="#20FFDF" stroke="#108070"/>
<rect x="166.8" y="1618.9" width="6.5" height="18.8" fill="#EFFF10" stroke="#707808"/>
<rect x="174.58" y="1625.2" width="6.5" height="12.5" fill="#FF4000" stroke="#802000"/>
<rect x="182.36" y="1618.9" width="6.5" height="18.8" fill="#800000" stroke="#400000"/>
<rect x="201.23" y="1594.1" width="6.5" height="43.6" fill="#00008F" stroke="#000040"/>
<rect x="209.01" y="1592.1" width="6.5" height="45.6" fill="#0050FF" stroke="#002080"/>
<rect x="216.79" y="1600.4" width="6.5" height="37.3" fill="#20FFDF" stroke="#108070"/>
<rect x="224.57" y="1573.3" width="6.5" height="64.4" fill="#EFFF10" stroke="#707808"/>
<rect x="232.35" y="1579.3" width="6.5" height="58.4" fill="#FF4000" stroke="#802000"/>
<rect x="240.13" y="1577.3" width="6.5" height="60.4" fill="#800000" stroke="#400000"/>
<rect x="259.01" y="1525.3" width="6.5" height="112.4" fill="#00008F" stroke="#000040"/>
<rect x="266.79" y="1573.3" width="6.5" height="64.4" fill="#0050FF" stroke="#002080"/>
<rect x="274.57" y="1533.4" width="6.5" height="104.3" fill="#20FFDF" stroke="#108070"/>
<rect x="282.35" y="1531.6" width="6.5" height="106.1" fill="#EFFF10" stroke="#707808"/>
<rect x="290.13" y="1489.8" width="6.5" height="147.9" fill="#FF4000" stroke="#802000"/>
<rect x="297.91" y="1515.1" width="6.5" height="122.6" fill="#800000" stroke="#400000"/>
<rect x="316.78" y="1423.3" width="6.5" height="214.4" fill="#00008F" stroke="#000040"/>
<rect x="324.56" y="1533.6" width="6.5" height="104.1" fill="#0050FF" stroke="#002080"/>
<rect x="332.34" y="1417.3" width="6.5" height="220.4" fill="#20FFDF" stroke="#108070"/>
<rect x="340.12" y="1462.9" width="6.5" height="174.8" fill="#EFFF10" stroke="#707808"/>
<rect x="347.9" y="1323.7" width="6.5" height="314" fill="#FF4000" stroke="#802000"/>
<rect x="355.68" y="1405.2" width="6.5" height="232.5" fill="#800000" stroke="#400000"/>
<rect x="374.56" y="1431.8" width="6.5" height="205.9" fill="#00008F" stroke="#000040"/>
<rect x="382.34" y="1494.3" width="6.5" height="143.4" fill="#0050FF" stroke="#002080"/>
<rect x="390.12" y="1423.5" width="6.5" height="214.2" fill="#20FFDF" stroke="#108070"/>
<rect x="397.9" y="1435.8" width="6.5" height="201.9" fill="#EFFF10" stroke="#707808"/>
<rect x="405.68" y="1390.2" width="6.5" height="247.5" fill="#FF4000" stroke="#802000"/>
<rect x="413.46" y="1398.4" width="6.5" height="239.3" fill="#800000" stroke="#400000"/>
<rect x="432.34" y="1479.7" width="6.5" height="158" fill="#00008F" stroke="#000040"/>
<rect x="440.12" y="1417.3" width="6.5" height="220.4" fill="#0050FF" stroke="#002080"/>
<rect x="447.9" y="1469.2" width="6.5" height="168.5" fill="#20FFDF" stroke="#108070"/>
<rect x="455.68" y="1452.6" width="6.5" height="185.1" fill="#EFFF10" stroke="#707808"/>
<rect x="463.46" y="1504.5" width="6.5" height="133.2" fill="#FF4000" stroke="#802000"/>
<rect x="471.24" y="1460.9" width="6.5" height="176.8" fill="#800000" stroke="#400000"/>
<rect x="490.11" y="1475.5" width="6.5" height="162.2" fill="#00008F" stroke="#000040"/>
<rect x="497.89" y="1378.1" width="6.5" height="259.6" fill="#0050FF" stroke="#002080"/>
<rect x="505.67" y="1469.2" width="6.5" height="168.5" fill="#20FFDF" stroke="#108070"/>
<rect x="513.45" y="1498.3" width="6.5" height="139.4" fill="#EFFF10" stroke="#707808"/>
<rect x="521.23" y="1562.7" width="6.5" height="75" fill="#FF4000" stroke="#802000"/>
<rect x="529.01" y="1535.9" width="6.5" height="101.8" fill="#800000" stroke="#400000"/>
<rect x="547.89" y="1562.7" width="6.5" height="75" fill="#00008F" stroke="#000040"/>
<rect x="555.67" y="1521.3" width="6.5" height="116.4" fill="#0050FF" stroke="#002080"/>
<rect x="563.45" y="1569" width="6.5" height="68.7" fill="#20FFDF" stroke="#108070"/>
<rect x="571.23" y="1556.9" width="6.5" height="80.8" fill="#EFFF10" stroke="#707808"/>
<rect x="579.01" y="1624.9" width="6.5" height="12.8" fill="#FF4000" stroke="#802000"/>
<rect x="586.79" y="1602.4" width="6.5" height="35.3" fill="#800000" stroke="#400000"/>
<rect x="605.66" y="1629.5" width="6.5" height="8.2" fill="#00008F" stroke="#000040"/>
<rect x="613.44" y="1614.9" width="6.5" height="22.8" fill="#0050FF" stroke="#002080"/>
<rect x="621.22" y="1631.5" width="6.5" height="6.2" fill="#20FFDF" stroke="#108070"/>
<rect x="629" y="1610.4" width="6.5" height="27.3" fill="#EFFF10" stroke="#707808"/>
<rect x="644.56" y="1633.5" width="6.5" height="4.2" fill="#800000" stroke="#400000"/>
</g>
<path d="M156.9 1637.7v-5.5M156.9 1240.7v5.5M230.3 1637.7v-5.5M230.3 1240.7v5.5M303.7 1637.7v-5.5M303.7 1240.7v5.5M377.1 1637.7v-5.5M377.1 1240.7v5.5M450.5 1637.7v-5.5M450.5 1240.7v5.5M523.9 1637.7v-5.5M523.9 1240.7v5.5M597.3 1637.7v-5.5M597.3 1240.7v5.5M83.9 1537.7h5.5M670 1537.7h-5.5M83.9 1437.8h5.5M670 1437.8h-5.5M83.9 1337.95h5.5M670 1337.95h-5.5" stroke="#000" stroke-width="1.5" fill="none"/>
<rect x="83.9" y="1240.7" width="586.1" height="397" fill="none" stroke="#000" stroke-width="1.9"/>
<g font-size="24" text-anchor="end">
<text transform="translate(70.8 1647.8) scale(1 1.03)">0</text>
<text transform="translate(70.8 1547.8) scale(1 1.03)">10</text>
<text transform="translate(70.8 1447.9) scale(1 1.03)">20</text>
<text transform="translate(70.8 1348.05) scale(1 1.03)">30</text>
<text transform="translate(70.8 1250.8) scale(1 1.03)">40</text>
</g>
<g font-size="23.3" text-anchor="end">
<text transform="translate(103.9 1648.7) rotate(-90) scale(1.035 1)">1</text>
<text transform="translate(178.4 1648.7) rotate(-90) scale(1.035 1)">3.16</text>
<text transform="translate(250.4 1648.7) rotate(-90) scale(1.035 1)">10</text>
<text transform="translate(324.4 1648.7) rotate(-90) scale(1.035 1)">31.6</text>
<text transform="translate(399.7 1648.7) rotate(-90) scale(1.035 1)">100</text>
<text transform="translate(471.2 1648.7) rotate(-90) scale(1.035 1)">316</text>
<text transform="translate(545.2 1648.7) rotate(-90) scale(1.035 1)">1000</text>
<text transform="translate(617.2 1648.7) rotate(-90) scale(1.035 1)">3162</text>
<text transform="translate(679 1648.7) rotate(-90) scale(1.035 1)">10000</text>
</g>
<text font-size="23.3" text-anchor="middle" transform="translate(20.3 1443.3) rotate(-90)">%</text>
<text font-size="24.6" text-anchor="middle" x="386" y="1761">R<tspan font-size="17.3" dy="7.7">B</tspan><tspan dy="-7.7"> (m)</tspan></text>
<text font-size="40" font-weight="bold" transform="translate(1.4 1238.5) scale(1 1.05)">e</text>
<rect x="128" y="1263.5" width="78" height="29.3" fill="#00008F" stroke="#000040" stroke-width="0.5"/>
<text font-size="26.9" x="216.3" y="1289.53">EU</text>
<rect x="128" y="1303.1" width="78" height="26.9" fill="#0050FF" stroke="#002080" stroke-width="0.5"/>
<text font-size="26.9" x="216.3" y="1328.37">AS</text>
<rect x="128" y="1340.5" width="78" height="29.3" fill="#20FFDF" stroke="#108070" stroke-width="0.5"/>
<text font-size="26.9" x="216.3" y="1367.21">NCA</text>
<rect x="128" y="1380.1" width="78" height="29.1" fill="#EFFF10" stroke="#707808" stroke-width="0.5"/>
<text font-size="26.9" x="216.3" y="1406.05">SA</text>
<rect x="128" y="1419.5" width="78" height="27.1" fill="#FF4000" stroke="#802000" stroke-width="0.5"/>
<text font-size="26.9" x="216.3" y="1444.89">AU</text>
<rect x="128" y="1456.6" width="78" height="29.4" fill="#800000" stroke="#400000" stroke-width="0.5"/>
<text font-size="26.9" x="216.3" y="1483.73">AF</text>
</g>
<g id="pf">
<g stroke-width="0.45">
<rect x="907.61" y="1521.6" width="5.4" height="115.4" fill="#00008F" stroke="#000040"/>
<rect x="914.01" y="1525.1" width="5.4" height="111.9" fill="#0050FF" stroke="#002080"/>
<rect x="920.41" y="1517.6" width="5.4" height="119.4" fill="#20FFDF" stroke="#108070"/>
<rect x="926.81" y="1569.5" width="5.4" height="67.5" fill="#EFFF10" stroke="#707808"/>
<rect x="933.21" y="1563.5" width="5.4" height="73.5" fill="#FF4000" stroke="#802000"/>
<rect x="939.61" y="1580.3" width="5.4" height="56.7" fill="#800000" stroke="#400000"/>
<rect x="956.02" y="1268.7" width="5.4" height="368.3" fill="#00008F" stroke="#000040"/>
<rect x="962.42" y="1257.5" width="5.4" height="379.5" fill="#0050FF" stroke="#002080"/>
<rect x="968.82" y="1266.7" width="5.4" height="370.3" fill="#20FFDF" stroke="#108070"/>
<rect x="975.22" y="1247.7" width="5.4" height="389.3" fill="#EFFF10" stroke="#707808"/>
<rect x="981.62" y="1242.1" width="5.4" height="394.9" fill="#FF4000" stroke="#802000"/>
<rect x="988.02" y="1245.9" width="5.4" height="391.1" fill="#800000" stroke="#400000"/>
<rect x="1004.44" y="1451.4" width="5.4" height="185.6" fill="#00008F" stroke="#000040"/>
<rect x="1010.84" y="1456.9" width="5.4" height="180.1" fill="#0050FF" stroke="#002080"/>
<rect x="1017.24" y="1458.9" width="5.4" height="178.1" fill="#20FFDF" stroke="#108070"/>
<rect x="1023.64" y="1445.6" width="5.4" height="191.4" fill="#EFFF10" stroke="#707808"/>
<rect x="1030.04" y="1436.1" width="5.4" height="200.9" fill="#FF4000" stroke="#802000"/>
<rect x="1036.44" y="1434.3" width="5.4" height="202.7" fill="#800000" stroke="#400000"/>
<rect x="1052.86" y="1553.9" width="5.4" height="83.1" fill="#00008F" stroke="#000040"/>
<rect x="1059.26" y="1559.7" width="5.4" height="77.3" fill="#0050FF" stroke="#002080"/>
<rect x="1065.66" y="1557.7" width="5.4" height="79.3" fill="#20FFDF" stroke="#108070"/>
<rect x="1072.06" y="1548.2" width="5.4" height="88.8" fill="#EFFF10" stroke="#707808"/>
<rect x="1078.46" y="1550.2" width="5.4" height="86.8" fill="#FF4000" stroke="#802000"/>
<rect x="1084.86" y="1544.4" width="5.4" height="92.6" fill="#800000" stroke="#400000"/>
<rect x="1101.28" y="1603.1" width="5.4" height="33.9" fill="#00008F" stroke="#000040"/>
<rect x="1107.68" y="1603.1" width="5.4" height="33.9" fill="#0050FF" stroke="#002080"/>
<rect x="1114.08" y="1603.1" width="5.4" height="33.9" fill="#20FFDF" stroke="#108070"/>
<rect x="1120.48" y="1595.6" width="5.4" height="41.4" fill="#EFFF10" stroke="#707808"/>
<rect x="1126.88" y="1605.1" width="5.4" height="31.9" fill="#FF4000" stroke="#802000"/>
<rect x="1133.28" y="1597.6" width="5.4" height="39.4" fill="#800000" stroke="#400000"/>
<rect x="1149.7" y="1624.2" width="5.4" height="12.8" fill="#00008F" stroke="#000040"/>
<rect x="1156.1" y="1624.2" width="5.4" height="12.8" fill="#0050FF" stroke="#002080"/>
<rect x="1162.5" y="1622.2" width="5.4" height="14.8" fill="#20FFDF" stroke="#108070"/>
<rect x="1168.9" y="1620.4" width="5.4" height="16.6" fill="#EFFF10" stroke="#707808"/>
<rect x="1175.3" y="1627.9" width="5.4" height="9.1" fill="#FF4000" stroke="#802000"/>
<rect x="1181.7" y="1624.2" width="5.4" height="12.8" fill="#800000" stroke="#400000"/>
<rect x="1198.11" y="1633.7" width="5.4" height="3.3" fill="#00008F" stroke="#000040"/>
<rect x="1204.51" y="1631.7" width="5.4" height="5.3" fill="#0050FF" stroke="#002080"/>
<rect x="1210.91" y="1631.7" width="5.4" height="5.3" fill="#20FFDF" stroke="#108070"/>
<rect x="1217.31" y="1629.7" width="5.4" height="7.3" fill="#EFFF10" stroke="#707808"/>
<rect x="1223.71" y="1635.5" width="5.4" height="1.5" fill="#B83000" stroke="#802000"/>
<rect x="1230.11" y="1633.5" width="5.4" height="3.5" fill="#800000" stroke="#400000"/>
<rect x="1246.53" y="1635.7" width="5.4" height="1.3" fill="#000060" stroke="#000040"/>
<rect x="1252.93" y="1635.7" width="5.4" height="1.3" fill="#0038B0" stroke="#002080"/>
<rect x="1259.33" y="1635.7" width="5.4" height="1.3" fill="#18B8A0" stroke="#108070"/>
<rect x="1265.73" y="1635.7" width="5.4" height="1.3" fill="#A8B40C" stroke="#707808"/>
<rect x="1272.13" y="1635.7" width="5.4" height="1.3" fill="#B83000" stroke="#802000"/>
<rect x="1278.53" y="1635.7" width="5.4" height="1.3" fill="#600000" stroke="#400000"/>
</g>
<path d="M864.05 1637v-5.5M864.05 1238.1v5.5M919.5 1637v-5.5M919.5 1238.1v5.5M974.95 1637v-5.5M974.95 1238.1v5.5M1030.4 1637v-5.5M1030.4 1238.1v5.5M1085.85 1637v-5.5M1085.85 1238.1v5.5M1141.3 1637v-5.5M1141.3 1238.1v5.5M1196.75 1637v-5.5M1196.75 1238.1v5.5M1252.2 1637v-5.5M1252.2 1238.1v5.5M1307.65 1637v-5.5M1307.65 1238.1v5.5M809.6 1557.22h5.5M1362.4 1557.22h-5.5M809.6 1477.44h5.5M1362.4 1477.44h-5.5M809.6 1397.66h5.5M1362.4 1397.66h-5.5M809.6 1317.88h5.5M1362.4 1317.88h-5.5" stroke="#000" stroke-width="1.5" fill="none"/>
<rect x="829.2" y="1634.9" width="5.2" height="2.2" fill="#20200c"/>
<rect x="877.6" y="1634.9" width="6.5" height="2.2" fill="#20200c"/>
<rect x="809.6" y="1238.1" width="552.8" height="398.9" fill="none" stroke="#000" stroke-width="1.9"/>
<g font-size="24" text-anchor="end">
<text transform="translate(796.8 1646.1) scale(1 1.03)">0</text>
<text transform="translate(796.8 1566.32) scale(1 1.03)">10</text>
<text transform="translate(796.8 1486.54) scale(1 1.03)">20</text>
<text transform="translate(796.8 1406.76) scale(1 1.03)">30</text>
<text transform="translate(796.8 1326.98) scale(1 1.03)">40</text>
<text transform="translate(796.8 1247.2) scale(1 1.03)">50</text>
</g>
<g font-size="23.3" text-anchor="end">
<text transform="translate(831.5 1648.5) rotate(-90) scale(1.035 1)">1000</text>
<text transform="translate(893.4 1648.5) rotate(-90) scale(1.035 1)">3162</text>
<text transform="translate(954.4 1648.5) rotate(-90) scale(1.035 1)">10000</text>
<text transform="translate(1015.9 1648.5) rotate(-90) scale(1.035 1)">31622</text>
<text transform="translate(1077.9 1648.5) rotate(-90) scale(1.035 1)">100000</text>
<text transform="translate(1140.1 1648.5) rotate(-90) scale(1.035 1)">316228</text>
<text transform="translate(1199.6 1648.5) rotate(-90) scale(1.035 1)">1e6</text>
<text transform="translate(1261.8 1648.5) rotate(-90) scale(1.035 1)">3.16e6</text>
<text transform="translate(1324.3 1648.5) rotate(-90) scale(1.035 1)">1e7</text>
<text transform="translate(1370.4 1648.5) rotate(-90) scale(1.035 1)">3.16e7</text>
</g>
<text font-size="23.3" text-anchor="middle" transform="translate(747.2 1440.8) rotate(-90)">%</text>
<text font-size="24.6" text-anchor="middle" x="1095.2" y="1769.3">P (m)</text>
<text font-size="40" font-weight="bold" transform="translate(727.8 1240) scale(1 1.05)">f</text>
<rect x="1117.8" y="1280.3" width="80.3" height="26.5" fill="#00008F" stroke="#000040" stroke-width="0.5"/>
<text font-size="24.6" x="1208.6" y="1304.11">EU</text>
<rect x="1117.8" y="1316.2" width="80.3" height="26.5" fill="#0050FF" stroke="#002080" stroke-width="0.5"/>
<text font-size="24.6" x="1208.6" y="1339.93">AS</text>
<rect x="1117.8" y="1352" width="80.3" height="26.5" fill="#20FFDF" stroke="#108070" stroke-width="0.5"/>
<text font-size="24.6" x="1208.6" y="1375.76">NCA</text>
<rect x="1117.8" y="1386.4" width="80.3" height="26.5" fill="#EFFF10" stroke="#707808" stroke-width="0.5"/>
<text font-size="24.6" x="1208.6" y="1411.58">SA</text>
<rect x="1117.8" y="1422.8" width="80.3" height="26.5" fill="#FF4000" stroke="#802000" stroke-width="0.5"/>
<text font-size="24.6" x="1208.6" y="1447.4">AU</text>
<rect x="1117.8" y="1458.9" width="80.3" height="26.5" fill="#800000" stroke="#400000" stroke-width="0.5"/>
<text font-size="24.6" x="1208.6" y="1483.22">AF</text>
</g>
<g id="pg">
<g stroke-width="0.45">
<rect x="162.37" y="2207.4" width="5.2" height="43.2" fill="#00008F" stroke="#000040"/>
<rect x="168.57" y="2207.4" width="5.2" height="43.2" fill="#0050FF" stroke="#002080"/>
<rect x="174.77" y="2209.4" width="5.2" height="41.2" fill="#20FFDF" stroke="#108070"/>
<rect x="180.97" y="2219.7" width="5.2" height="30.9" fill="#EFFF10" stroke="#707808"/>
<rect x="187.17" y="2219.7" width="5.2" height="30.9" fill="#FF4000" stroke="#802000"/>
<rect x="193.37" y="2219.7" width="5.2" height="30.9" fill="#800000" stroke="#400000"/>
<rect x="208.84" y="1978.1" width="5.2" height="272.5" fill="#00008F" stroke="#000040"/>
<rect x="215.04" y="1973.9" width="5.2" height="276.7" fill="#0050FF" stroke="#002080"/>
<rect x="221.24" y="1969.8" width="5.2" height="280.8" fill="#20FFDF" stroke="#108070"/>
<rect x="227.44" y="1997.2" width="5.2" height="253.4" fill="#EFFF10" stroke="#707808"/>
<rect x="233.64" y="1992.9" width="5.2" height="257.7" fill="#FF4000" stroke="#802000"/>
<rect x="239.84" y="2011.5" width="5.2" height="239.1" fill="#800000" stroke="#400000"/>
<rect x="255.31" y="1881" width="5.2" height="369.6" fill="#00008F" stroke="#000040"/>
<rect x="261.51" y="1870.7" width="5.2" height="379.9" fill="#0050FF" stroke="#002080"/>
<rect x="267.71" y="1868.7" width="5.2" height="381.9" fill="#20FFDF" stroke="#108070"/>
<rect x="273.91" y="1889.6" width="5.2" height="361" fill="#EFFF10" stroke="#707808"/>
<rect x="280.11" y="1885.3" width="5.2" height="365.3" fill="#FF4000" stroke="#802000"/>
<rect x="286.31" y="1901.6" width="5.2" height="349" fill="#800000" stroke="#400000"/>
<rect x="301.78" y="1852.2" width="5.2" height="398.4" fill="#00008F" stroke="#000040"/>
<rect x="307.98" y="1850.2" width="5.2" height="400.4" fill="#0050FF" stroke="#002080"/>
<rect x="314.18" y="1852.2" width="5.2" height="398.4" fill="#20FFDF" stroke="#108070"/>
<rect x="320.38" y="1858.5" width="5.2" height="392.1" fill="#EFFF10" stroke="#707808"/>
<rect x="326.58" y="1842.1" width="5.2" height="408.5" fill="#FF4000" stroke="#802000"/>
<rect x="332.78" y="1854.2" width="5.2" height="396.4" fill="#800000" stroke="#400000"/>
<rect x="348.25" y="1955.5" width="5.2" height="295.1" fill="#00008F" stroke="#000040"/>
<rect x="354.45" y="1965.8" width="5.2" height="284.8" fill="#0050FF" stroke="#002080"/>
<rect x="360.65" y="1967.8" width="5.2" height="282.8" fill="#20FFDF" stroke="#108070"/>
<rect x="366.85" y="1961.8" width="5.2" height="288.8" fill="#EFFF10" stroke="#707808"/>
<rect x="373.05" y="1941" width="5.2" height="309.6" fill="#FF4000" stroke="#802000"/>
<rect x="379.25" y="1938.7" width="5.2" height="311.9" fill="#800000" stroke="#400000"/>
<rect x="394.72" y="2089.8" width="5.2" height="160.8" fill="#00008F" stroke="#000040"/>
<rect x="400.92" y="2100" width="5.2" height="150.6" fill="#0050FF" stroke="#002080"/>
<rect x="407.12" y="2102" width="5.2" height="148.6" fill="#20FFDF" stroke="#108070"/>
<rect x="413.32" y="2079.2" width="5.2" height="171.4" fill="#EFFF10" stroke="#707808"/>
<rect x="419.52" y="2079.2" width="5.2" height="171.4" fill="#FF4000" stroke="#802000"/>
<rect x="425.72" y="2067.2" width="5.2" height="183.4" fill="#800000" stroke="#400000"/>
<rect x="441.19" y="2180.3" width="5.2" height="70.3" fill="#00008F" stroke="#000040"/>
<rect x="447.39" y="2182.3" width="5.2" height="68.3" fill="#0050FF" stroke="#002080"/>
<rect x="453.59" y="2182.3" width="5.2" height="68.3" fill="#20FFDF" stroke="#108070"/>
<rect x="459.79" y="2162.2" width="5.2" height="88.4" fill="#EFFF10" stroke="#707808"/>
<rect x="465.99" y="2178.5" width="5.2" height="72.1" fill="#FF4000" stroke="#802000"/>
<rect x="472.19" y="2162" width="5.2" height="88.6" fill="#800000" stroke="#400000"/>
<rect x="487.66" y="2226" width="5.2" height="24.6" fill="#00008F" stroke="#000040"/>
<rect x="493.86" y="2224.2" width="5.2" height="26.4" fill="#0050FF" stroke="#002080"/>
<rect x="500.06" y="2221.4" width="5.2" height="29.2" fill="#20FFDF" stroke="#108070"/>
<rect x="506.26" y="2211.4" width="5.2" height="39.2" fill="#EFFF10" stroke="#707808"/>
<rect x="512.46" y="2226" width="5.2" height="24.6" fill="#FF4000" stroke="#802000"/>
<rect x="518.66" y="2217.4" width="5.2" height="33.2" fill="#800000" stroke="#400000"/>
<rect x="534.13" y="2242.5" width="5.2" height="8.1" fill="#00008F" stroke="#000040"/>
<rect x="540.33" y="2238.2" width="5.2" height="12.4" fill="#0050FF" stroke="#002080"/>
<rect x="546.53" y="2240.3" width="5.2" height="10.3" fill="#20FFDF" stroke="#108070"/>
<rect x="552.73" y="2234" width="5.2" height="16.6" fill="#EFFF10" stroke="#707808"/>
<rect x="558.93" y="2246.5" width="5.2" height="4.1" fill="#FF4000" stroke="#802000"/>
<rect x="565.13" y="2242.3" width="5.2" height="8.3" fill="#800000" stroke="#400000"/>
<rect x="580.6" y="2248.3" width="5.2" height="2.3" fill="#000060" stroke="#000040"/>
<rect x="586.8" y="2246.5" width="5.2" height="4.1" fill="#0050FF" stroke="#002080"/>
<rect x="593" y="2248.3" width="5.2" height="2.3" fill="#18B8A0" stroke="#108070"/>
<rect x="599.2" y="2248.3" width="5.2" height="2.3" fill="#A8B40C" stroke="#707808"/>
<rect x="611.6" y="2246.5" width="5.2" height="4.1" fill="#800000" stroke="#400000"/>
</g>
<path d="M142.34 2250.6v-5.5M142.34 1841.9v5.5M201.18 2250.6v-5.5M201.18 1841.9v5.5M260.02 2250.6v-5.5M260.02 1841.9v5.5M318.86 2250.6v-5.5M318.86 1841.9v5.5M377.7 2250.6v-5.5M377.7 1841.9v5.5M436.54 2250.6v-5.5M436.54 1841.9v5.5M495.38 2250.6v-5.5M495.38 1841.9v5.5M554.22 2250.6v-5.5M554.22 1841.9v5.5M613.06 2250.6v-5.5M613.06 1841.9v5.5M83.9 2168.2h5.5M671 2168.2h-5.5M83.9 2086.4h5.5M671 2086.4h-5.5M83.9 2005h5.5M671 2005h-5.5M83.9 1923h5.5M671 1923h-5.5" stroke="#000" stroke-width="1.5" fill="none"/>
<rect x="83.9" y="1841.9" width="587.1" height="408.7" fill="none" stroke="#000" stroke-width="1.9"/>
<g font-size="24" text-anchor="end">
<text transform="translate(70.8 2260.7) scale(1 1.03)">0</text>
<text transform="translate(70.8 2178.3) scale(1 1.03)">5</text>
<text transform="translate(70.8 2096.5) scale(1 1.03)">10</text>
<text transform="translate(70.8 2015.1) scale(1 1.03)">15</text>
<text transform="translate(70.8 1933.1) scale(1 1.03)">20</text>
<text transform="translate(70.8 1852) scale(1 1.03)">25</text>
</g>
<g font-size="23.3" text-anchor="end">
<text transform="translate(106.6 2261.5) rotate(-90) scale(1.035 1)">316</text>
<text transform="translate(172.6 2261.5) rotate(-90) scale(1.035 1)">1000</text>
<text transform="translate(236.1 2261.5) rotate(-90) scale(1.035 1)">3162</text>
<text transform="translate(303.3 2261.5) rotate(-90) scale(1.035 1)">10000</text>
<text transform="translate(367.1 2261.5) rotate(-90) scale(1.035 1)">31622</text>
<text transform="translate(432.8 2261.5) rotate(-90) scale(1.035 1)">100000</text>
<text transform="translate(497.8 2261.5) rotate(-90) scale(1.035 1)">316228</text>
<text transform="translate(562.8 2261.5) rotate(-90) scale(1.035 1)">1e6</text>
<text transform="translate(629.8 2261.5) rotate(-90) scale(1.035 1)">3.16e6</text>
<text transform="translate(680.7 2261.5) rotate(-90) scale(1.035 1)">1e7</text>
</g>
<text font-size="23.3" text-anchor="middle" transform="translate(20.3 2049.6) rotate(-90)">%</text>
<text font-size="24.6" text-anchor="middle" x="392.4" y="2380.9">L<tspan font-size="17.3" dy="7.7">v</tspan><tspan dy="-7.7"> (m)</tspan></text>
<text font-size="40" font-weight="bold" transform="translate(-1.5 1840.3) scale(1 1.05)">g</text>
<rect x="499.1" y="1864.7" width="83.3" height="28.9" fill="#00008F" stroke="#000040" stroke-width="0.5"/>
<text font-size="26.9" x="592.9" y="1889.72">EU</text>
<rect x="499.1" y="1903.6" width="83.3" height="27.1" fill="#0050FF" stroke="#002080" stroke-width="0.5"/>
<text font-size="26.9" x="592.9" y="1928.52">AS</text>
<rect x="499.1" y="1941" width="83.3" height="28.8" fill="#20FFDF" stroke="#108070" stroke-width="0.5"/>
<text font-size="26.9" x="592.9" y="1967.32">NCA</text>
<rect x="499.1" y="1980.4" width="83.3" height="28.8" fill="#EFFF10" stroke="#707808" stroke-width="0.5"/>
<text font-size="26.9" x="592.9" y="2006.12">SA</text>
<rect x="499.1" y="2019.5" width="83.3" height="27.1" fill="#FF4000" stroke="#802000" stroke-width="0.5"/>
<text font-size="26.9" x="592.9" y="2044.91">AU</text>
<rect x="499.1" y="2056.9" width="83.3" height="28.8" fill="#800000" stroke="#400000" stroke-width="0.5"/>
<text font-size="26.9" x="592.9" y="2083.71">AF</text>
</g>
<g id="ph">
<g stroke-width="0.45">
<rect x="852.6" y="2196.8" width="5.5" height="54.2" fill="#00008F" stroke="#000040"/>
<rect x="859.12" y="2206.9" width="5.5" height="44.1" fill="#0050FF" stroke="#002080"/>
<rect x="865.64" y="2194.8" width="5.5" height="56.2" fill="#20FFDF" stroke="#108070"/>
<rect x="872.16" y="2244.5" width="5.5" height="6.5" fill="#EFFF10" stroke="#707808"/>
<rect x="878.68" y="2248.5" width="5.5" height="2.5" fill="#FF4000" stroke="#802000"/>
<rect x="901.54" y="1959.1" width="5.5" height="291.9" fill="#00008F" stroke="#000040"/>
<rect x="908.06" y="1963.1" width="5.5" height="287.9" fill="#0050FF" stroke="#002080"/>
<rect x="914.58" y="1969.1" width="5.5" height="281.9" fill="#20FFDF" stroke="#108070"/>
<rect x="921.1" y="1925.2" width="5.5" height="325.8" fill="#EFFF10" stroke="#707808"/>
<rect x="927.62" y="1917.2" width="5.5" height="333.8" fill="#FF4000" stroke="#802000"/>
<rect x="934.14" y="1913.1" width="5.5" height="337.9" fill="#800000" stroke="#400000"/>
<rect x="950.48" y="2147.2" width="5.5" height="103.8" fill="#00008F" stroke="#000040"/>
<rect x="957" y="2148.9" width="5.5" height="102.1" fill="#0050FF" stroke="#002080"/>
<rect x="963.52" y="2144.7" width="5.5" height="106.3" fill="#20FFDF" stroke="#108070"/>
<rect x="970.04" y="2165.2" width="5.5" height="85.8" fill="#EFFF10" stroke="#707808"/>
<rect x="976.56" y="2165.2" width="5.5" height="85.8" fill="#FF4000" stroke="#802000"/>
<rect x="983.08" y="2167.2" width="5.5" height="83.8" fill="#800000" stroke="#400000"/>
<rect x="999.43" y="2015" width="5.5" height="236" fill="#00008F" stroke="#000040"/>
<rect x="1005.95" y="2029.1" width="5.5" height="221.9" fill="#0050FF" stroke="#002080"/>
<rect x="1012.47" y="2008.7" width="5.5" height="242.3" fill="#20FFDF" stroke="#108070"/>
<rect x="1018.99" y="2095" width="5.5" height="156" fill="#EFFF10" stroke="#707808"/>
<rect x="1025.51" y="2072.7" width="5.5" height="178.3" fill="#FF4000" stroke="#802000"/>
<rect x="1032.03" y="2103" width="5.5" height="148" fill="#800000" stroke="#400000"/>
<rect x="1048.37" y="2007" width="5.5" height="244" fill="#00008F" stroke="#000040"/>
<rect x="1054.89" y="2002.7" width="5.5" height="248.3" fill="#0050FF" stroke="#002080"/>
<rect x="1061.41" y="2007" width="5.5" height="244" fill="#20FFDF" stroke="#108070"/>
<rect x="1067.93" y="2005" width="5.5" height="246" fill="#EFFF10" stroke="#707808"/>
<rect x="1074.45" y="1981.1" width="5.5" height="269.9" fill="#FF4000" stroke="#802000"/>
<rect x="1080.97" y="1999.2" width="5.5" height="251.8" fill="#800000" stroke="#400000"/>
<rect x="1097.31" y="2011" width="5.5" height="240" fill="#00008F" stroke="#000040"/>
<rect x="1103.83" y="1997.2" width="5.5" height="253.8" fill="#0050FF" stroke="#002080"/>
<rect x="1110.35" y="2007" width="5.5" height="244" fill="#20FFDF" stroke="#108070"/>
<rect x="1116.87" y="1959.3" width="5.5" height="291.7" fill="#EFFF10" stroke="#707808"/>
<rect x="1123.39" y="1997.2" width="5.5" height="253.8" fill="#FF4000" stroke="#802000"/>
<rect x="1129.91" y="1973.1" width="5.5" height="277.9" fill="#800000" stroke="#400000"/>
<rect x="1146.25" y="2110.8" width="5.5" height="140.2" fill="#00008F" stroke="#000040"/>
<rect x="1152.77" y="2097.5" width="5.5" height="153.5" fill="#0050FF" stroke="#002080"/>
<rect x="1159.29" y="2110.8" width="5.5" height="140.2" fill="#20FFDF" stroke="#108070"/>
<rect x="1165.81" y="2061.4" width="5.5" height="189.6" fill="#EFFF10" stroke="#707808"/>
<rect x="1172.33" y="2071" width="5.5" height="180" fill="#FF4000" stroke="#802000"/>
<rect x="1178.85" y="2059.2" width="5.5" height="191.8" fill="#800000" stroke="#400000"/>
<rect x="1195.19" y="2228.7" width="5.5" height="22.3" fill="#00008F" stroke="#000040"/>
<rect x="1201.71" y="2226.7" width="5.5" height="24.3" fill="#0050FF" stroke="#002080"/>
<rect x="1208.23" y="2232.5" width="5.5" height="18.5" fill="#20FFDF" stroke="#108070"/>
<rect x="1214.75" y="2216.4" width="5.5" height="34.6" fill="#EFFF10" stroke="#707808"/>
<rect x="1221.27" y="2218.4" width="5.5" height="32.6" fill="#FF4000" stroke="#802000"/>
<rect x="1227.79" y="2210.6" width="5.5" height="40.4" fill="#800000" stroke="#400000"/>
<rect x="1244.14" y="2248.5" width="5.5" height="2.5" fill="#00008F" stroke="#000040"/>
<rect x="1250.66" y="2248.5" width="5.5" height="2.5" fill="#0050FF" stroke="#002080"/>
<rect x="1257.18" y="2248.5" width="5.5" height="2.5" fill="#20FFDF" stroke="#108070"/>
<rect x="1263.7" y="2248.5" width="5.5" height="2.5" fill="#EFFF10" stroke="#707808"/>
<rect x="1270.22" y="2248.5" width="5.5" height="2.5" fill="#FF4000" stroke="#802000"/>
<rect x="1276.74" y="2248.5" width="5.5" height="2.5" fill="#800000" stroke="#400000"/>
<rect x="1293.08" y="2248.5" width="5.5" height="2.5" fill="#00008F" stroke="#000040"/>
<rect x="1299.6" y="2248.5" width="5.5" height="2.5" fill="#0050FF" stroke="#002080"/>
<rect x="1306.12" y="2248.5" width="5.5" height="2.5" fill="#20FFDF" stroke="#108070"/>
<rect x="1312.64" y="2248.5" width="5.5" height="2.5" fill="#EFFF10" stroke="#707808"/>
<rect x="1319.16" y="2248.5" width="5.5" height="2.5" fill="#FF4000" stroke="#802000"/>
<rect x="1325.68" y="2248.5" width="5.5" height="2.5" fill="#800000" stroke="#400000"/>
</g>
<path d="M837.4 2251v-5.5M837.4 1852.9v5.5M894.35 2251v-5.5M894.35 1852.9v5.5M951.3 2251v-5.5M951.3 1852.9v5.5M1008.25 2251v-5.5M1008.25 1852.9v5.5M1065.2 2251v-5.5M1065.2 1852.9v5.5M1122.15 2251v-5.5M1122.15 1852.9v5.5M1179.1 2251v-5.5M1179.1 1852.9v5.5M1236.05 2251v-5.5M1236.05 1852.9v5.5M1293 2251v-5.5M1293 1852.9v5.5M1349.95 2251v-5.5M1349.95 1852.9v5.5M809.2 2183h5.5M1380.2 2183h-5.5M809.2 2116.9h5.5M1380.2 2116.9h-5.5M809.2 2050.9h5.5M1380.2 2050.9h-5.5M809.2 1985.1h5.5M1380.2 1985.1h-5.5M809.2 1919.2h5.5M1380.2 1919.2h-5.5" stroke="#000" stroke-width="1.5" fill="none"/>
<rect x="809.2" y="1852.9" width="571" height="398.1" fill="none" stroke="#000" stroke-width="1.9"/>
<g font-size="24" text-anchor="end">
<text transform="translate(796.8 2260.1) scale(1 1.03)">0</text>
<text transform="translate(796.8 2192.1) scale(1 1.03)">5</text>
<text transform="translate(796.8 2126) scale(1 1.03)">10</text>
<text transform="translate(796.8 2060) scale(1 1.03)">15</text>
<text transform="translate(796.8 1994.2) scale(1 1.03)">20</text>
<text transform="translate(796.8 1928.3) scale(1 1.03)">25</text>
<text transform="translate(796.8 1862) scale(1 1.03)">30</text>
</g>
<g font-size="23.3" text-anchor="end">
<text transform="translate(858.1 2264) rotate(-90) scale(1.035 1)">398</text>
<text transform="translate(914.5 2264) rotate(-90) scale(1.035 1)">630</text>
<text transform="translate(972 2264) rotate(-90) scale(1.035 1)">1000</text>
<text transform="translate(1028.7 2264) rotate(-90) scale(1.035 1)">1584</text>
<text transform="translate(1086.4 2264) rotate(-90) scale(1.035 1)">2511</text>
<text transform="translate(1144.1 2264) rotate(-90) scale(1.035 1)">3981</text>
<text transform="translate(1201.3 2264) rotate(-90) scale(1.035 1)">6309</text>
<text transform="translate(1258.5 2264) rotate(-90) scale(1.035 1)">10000</text>
<text transform="translate(1315.5 2264) rotate(-90) scale(1.035 1)">15848</text>
<text transform="translate(1371.9 2264) rotate(-90) scale(1.035 1)">25118</text>
</g>
<text font-size="23.3" text-anchor="middle" transform="translate(747.2 2055.9) rotate(-90)">%</text>
<text font-size="24.6" text-anchor="middle" x="1109.5" y="2370.1">L<tspan font-size="17.3" dy="7.7">g</tspan><tspan dy="-7.7"> (m)</tspan></text>
<text font-size="40" font-weight="bold" transform="translate(726.1 1840.5) scale(1 1.05)">h</text>
<rect x="1205.1" y="1883.5" width="76.3" height="27.5" fill="#00008F" stroke="#000040" stroke-width="0.5"/>
<text font-size="26.1" x="1291.4" y="1908.8">EU</text>
<rect x="1205.1" y="1921.4" width="76.3" height="27.5" fill="#0050FF" stroke="#002080" stroke-width="0.5"/>
<text font-size="26.1" x="1291.4" y="1946.12">AS</text>
<rect x="1205.1" y="1959.3" width="76.3" height="27.5" fill="#20FFDF" stroke="#108070" stroke-width="0.5"/>
<text font-size="26.1" x="1291.4" y="1983.44">NCA</text>
<rect x="1205.1" y="1995.4" width="76.3" height="27.5" fill="#EFFF10" stroke="#707808" stroke-width="0.5"/>
<text font-size="26.1" x="1291.4" y="2020.76">SA</text>
<rect x="1205.1" y="2033.3" width="76.3" height="27.5" fill="#FF4000" stroke="#802000" stroke-width="0.5"/>
<text font-size="26.1" x="1291.4" y="2058.08">AU</text>
<rect x="1205.1" y="2071" width="76.3" height="27.5" fill="#800000" stroke="#400000" stroke-width="0.5"/>
<text font-size="26.1" x="1291.4" y="2095.4">AF</text>
</g>
</svg>
</body></html>
